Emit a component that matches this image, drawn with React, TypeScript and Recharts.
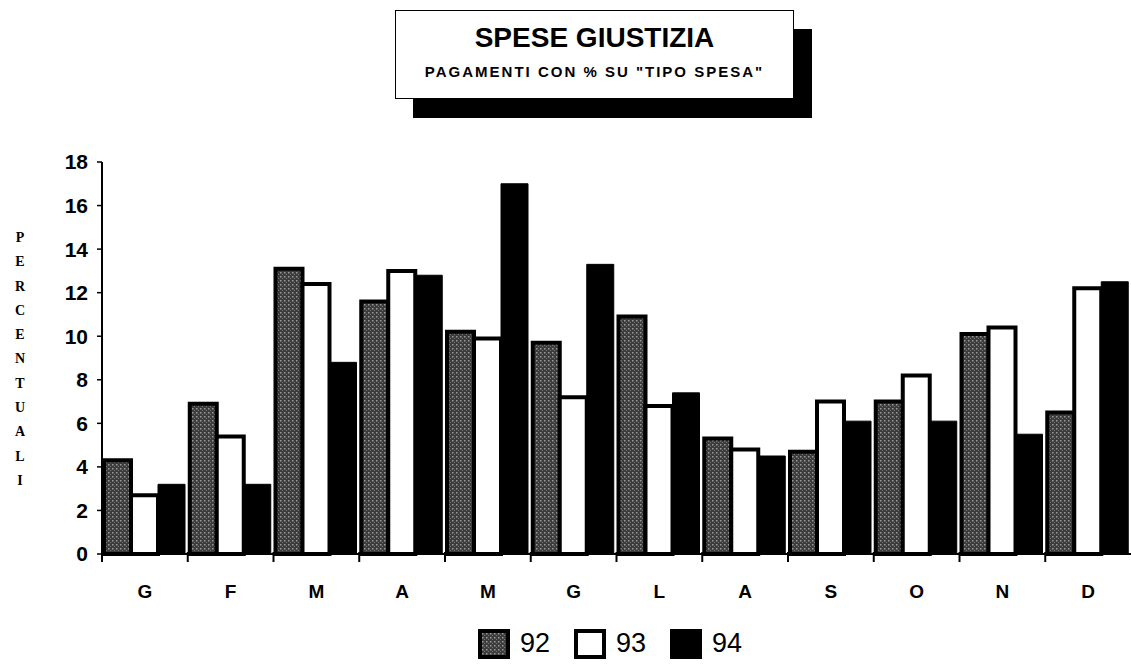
import * as React from 'react'
import { Bar, BarChart, XAxis, YAxis } from 'recharts'

const months = ['G', 'F', 'M', 'A', 'M', 'G', 'L', 'A', 'S', 'O', 'N', 'D']
const s92 = [4.3, 6.9, 13.1, 11.6, 10.2, 9.7, 10.9, 5.3, 4.7, 7.0, 10.1, 6.5]
const s93 = [2.7, 5.4, 12.4, 13.0, 9.9, 7.2, 6.8, 4.8, 7.0, 8.2, 10.4, 12.2]
const s94 = [3.2, 3.2, 8.8, 12.8, 17.0, 13.3, 7.4, 4.5, 6.1, 6.1, 5.5, 12.5]
const yTicks = [0, 2, 4, 6, 8, 10, 12, 14, 16, 18]
const seriesNames = ['92', '93', '94']
const yLabel = 'PERCENTUALI'

const data = months.map((m, i) => ({ key: `${m}${i}`, month: m, a: s92[i], b: s93[i], c: s94[i] }))

const W = 1131
const H = 669
const AXIS_W = 102
const halfBand = (W - AXIS_W) / months.length / 2
const sans = '"Liberation Sans", Arial, sans-serif'

const MonthTick = ({ x, y, payload }: any) => (
  <g>
    <line x1={x - halfBand} x2={x - halfBand} y1={y - 10} y2={y} stroke="#000" strokeWidth={2} />
    <text x={x} y={y + 36} textAnchor="middle" fontFamily={sans} fontWeight="bold" fontSize={19} fill="#000">
      {months[payload.index] ?? payload.value}
    </text>
  </g>
)

const LegendBox = ({ kind }: { kind: string }) => {
  if (kind === '92')
    return (
      <svg width={32} height={30} style={{ verticalAlign: 'middle' }}>
        <rect x={2} y={2} width={28} height={26} fill="url(#dots92)" stroke="#000" strokeWidth={4} />
      </svg>
    )
  if (kind === '93')
    return (
      <svg width={32} height={30} style={{ verticalAlign: 'middle' }}>
        <rect x={2} y={2} width={28} height={26} fill="#fff" stroke="#000" strokeWidth={4} />
      </svg>
    )
  return (
    <svg width={32} height={30} style={{ verticalAlign: 'middle' }}>
      <rect x={0} y={0} width={32} height={30} fill="#000" />
    </svg>
  )
}

export default function App() {
  return (
    <div style={{ position: 'absolute', left: 0, top: 0, width: W, height: H, background: '#fff', overflow: 'hidden' }}>
      <svg width={0} height={0} style={{ position: 'absolute' }}>
        <defs>
          <pattern id="dots92" width={4} height={4} patternUnits="userSpaceOnUse">
            <rect width={4} height={4} fill="#3c3c3c" />
            <rect x={0} y={0} width={1.5} height={1.5} fill="#9a9a9a" />
            <rect x={2} y={2} width={1} height={1} fill="#777" />
          </pattern>
        </defs>
      </svg>

      {/* title box with drop shadow */}
      <div
        style={{
          position: 'absolute',
          left: 395,
          top: 10,
          width: 397,
          height: 87,
          border: '1px solid #000',
          boxShadow: '18px 19px 0 #000',
          background: '#fff',
          fontFamily: sans,
          fontWeight: 'bold',
          textAlign: 'center',
        }}
      >
        <div style={{ fontSize: 28, lineHeight: '32px', marginTop: 11 }}>SPESE GIUSTIZIA</div>
        <div style={{ fontSize: 15, lineHeight: '18px', marginTop: 9, letterSpacing: 2 }}>PAGAMENTI CON % SU "TIPO SPESA"</div>
      </div>

      {/* vertical axis label */}
      <div
        style={{
          position: 'absolute',
          left: 12,
          top: 226,
          width: 16,
          fontFamily: '"Liberation Serif", "Times New Roman", serif',
          fontWeight: 'bold',
          fontSize: 14,
          lineHeight: '24.3px',
          textAlign: 'center',
        }}
      >
        {yLabel.split('').map((ch, i) => (
          <div key={i}>{ch}</div>
        ))}
      </div>

      <div style={{ position: 'absolute', left: 0, top: 0 }}>
        <BarChart
          width={W}
          height={H}
          data={data}
          margin={{ top: 162, right: 0, bottom: 55, left: 0 }}
          barCategoryGap={2}
          barGap={0}
        >
          <XAxis
            dataKey="key"
            axisLine={{ stroke: '#000', strokeWidth: 2 }}
            tickLine={false}
            tick={<MonthTick />}
            interval={0}
            height={60}
          />
          <YAxis
            width={AXIS_W}
            domain={[0, 18]}
            ticks={yTicks}
            interval={0}
            axisLine={{ stroke: '#000', strokeWidth: 2 }}
            tickLine={{ stroke: '#000', strokeWidth: 1.5 }}
            tickSize={5}
            tickMargin={9}
            tick={{ fill: '#000', fontSize: 21, fontWeight: 'bold', fontFamily: sans }}
          />
          <Bar dataKey="a" name={seriesNames[0]} fill="url(#dots92)" stroke="#000" strokeWidth={4} isAnimationActive={false} />
          <Bar dataKey="b" name={seriesNames[1]} fill="#fff" stroke="#000" strokeWidth={4} isAnimationActive={false} />
          <Bar dataKey="c" name={seriesNames[2]} fill="#000" stroke="#000" strokeWidth={1} isAnimationActive={false} />
        </BarChart>
      </div>

      {/* legend */}
      <div
        style={{
          position: 'absolute',
          left: 478,
          top: 628,
          display: 'flex',
          alignItems: 'center',
          fontFamily: sans,
          fontSize: 27,
        }}
      >
        {seriesNames.map((n) => (
          <div key={n} style={{ display: 'flex', alignItems: 'center', marginRight: 24 }}>
            <LegendBox kind={n} />
            <span style={{ marginLeft: 10 }}>{n}</span>
          </div>
        ))}
      </div>
    </div>
  )
}
